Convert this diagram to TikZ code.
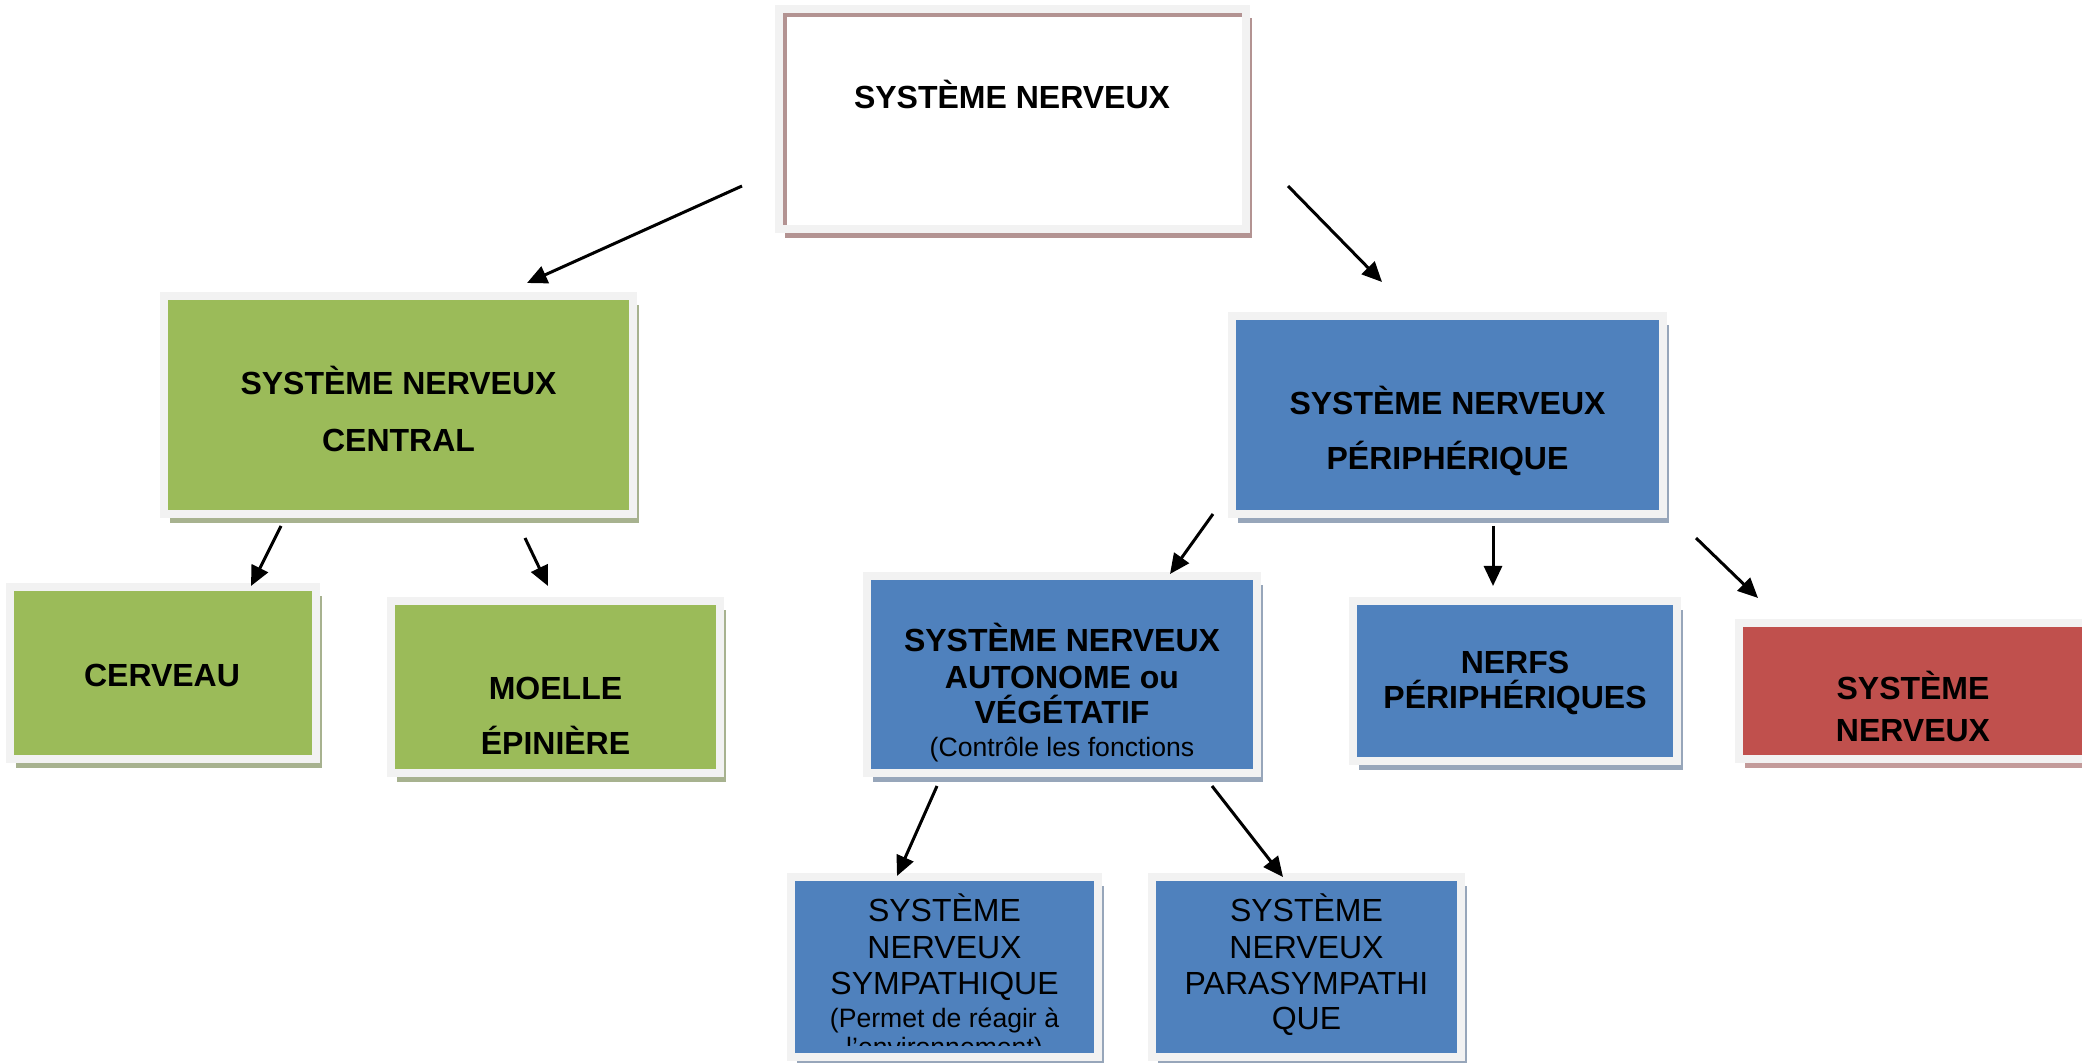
\documentclass[tikz,border=0pt]{standalone}
\usepackage{fontspec}
\setmainfont{Liberation Sans}
\usetikzlibrary{arrows.meta,calc,shadows}

\definecolor{vert}{HTML}{9BBB59}
\definecolor{bleu}{HTML}{4F81BD}
\definecolor{rouge}{HTML}{C0504D}
\definecolor{cadregris}{HTML}{F2F2F2}
\definecolor{ombrevert}{HTML}{A7B28F}
\definecolor{ombrebleu}{HTML}{97A6BA}
\definecolor{ombrebrun}{HTML}{B39392}
\definecolor{ombrerouge}{HTML}{C39B9A}

\tikzset{
  boite/.style={draw=cadregris, line width=4pt, inner sep=0pt, outer sep=0pt,
    drop shadow={shadow xshift=3.2pt, shadow yshift=-4.5pt, opacity=1, fill=#1}},
  titre/.style={font=\fontsize{16}{19}\selectfont\bfseries, anchor=base, inner sep=0pt},
  texte/.style={font=\fontsize{16}{19}\selectfont, anchor=base, inner sep=0pt},
  petit/.style={font=\fontsize{13.3}{16}\selectfont, anchor=base, inner sep=0pt},
  fleche/.style={line width=1.5pt, -{Triangle[length=10pt,width=9pt]}}
}

\begin{document}
\begin{tikzpicture}[x=0.5pt,y=-0.5pt]

	\useasboundingbox (0,0) rectangle (2082,1063);
	\clip (0,0) rectangle (2082,1063);

	% Boites
	\node[boite=ombrebrun, fill=white, minimum width=233.5pt, minimum height=110pt] (sn) at (1012.5,119) {};
	\draw[ombrebrun, line width=2pt] ($(sn.south west)+(6,-4)$) |- ($(sn.north east)+(-4,6)$);
	\node[boite=ombrevert, fill=vert, minimum width=234.5pt, minimum height=109pt] (snc) at (398.5,405) {};
	\node[boite=ombrevert, fill=vert, minimum width=153pt, minimum height=86pt] (cerveau) at (163,673) {};
	\node[boite=ombrevert, fill=vert, minimum width=164.5pt, minimum height=86pt] (moelle) at (555.5,687) {};
	\node[boite=ombrebleu, fill=bleu, minimum width=215.5pt, minimum height=99pt] (snp) at (1447.5,415) {};
	\node[boite=ombrebleu, fill=bleu, minimum width=195pt, minimum height=98.5pt] (sna) at (1062,674.5) {};
	\node[boite=ombrebleu, fill=bleu, minimum width=162pt, minimum height=80pt] (nerfs) at (1515,681) {};
	\node[boite=ombrerouge, fill=rouge, minimum width=174pt, minimum height=68pt] (snr) at (1913,691) {};
	\node[boite=ombrebleu, fill=bleu, minimum width=153.5pt, minimum height=90pt] (symp) at (944.5,967) {};
	\node[boite=ombrebleu, fill=bleu, minimum width=154.5pt, minimum height=90pt] (para) at (1306.5,967) {};

	% Textes
	\node[titre] (sn-t) at (1012,108.5) {SYSTÈME NERVEUX};
	\node[titre] (snc-t1) at (398.5,394.5) {SYSTÈME NERVEUX};
	\node[titre] (snc-t2) at (398.5,451.5) {CENTRAL};
	\node[titre] (cerveau-t) at (162,686.5) {CERVEAU};
	\node[titre] (moelle-t1) at (555.5,699.5) {MOELLE};
	\node[titre] (moelle-t2) at (555.5,754.5) {ÉPINIÈRE};
	\node[titre] (snp-t1) at (1447.5,414.5) {SYSTÈME NERVEUX};
	\node[titre] (snp-t2) at (1447.5,469.5) {PÉRIPHÉRIQUE};
	\node[titre] (sna-t1) at (1062,651.5) {SYSTÈME NERVEUX};
	\node[titre] (sna-t2) at (1062,688.5) {AUTONOME ou};
	\node[titre] (sna-t3) at (1062,723.5) {VÉGÉTATIF};
	\node[petit] (sna-t4) at (1062,756.5) {(Contrôle les fonctions};
	\node[titre] (nerfs-t1) at (1515,673.5) {NERFS};
	\node[titre] (nerfs-t2) at (1515,708.5) {PÉRIPHÉRIQUES};
	\node[titre] (snr-t1) at (1913,699.5) {SYSTÈME};
	\node[titre] (snr-t2) at (1913,741.5) {NERVEUX};
	\node[texte] (symp-t1) at (944.5,921.5) {SYSTÈME};
	\node[texte] (symp-t2) at (944.5,958.5) {NERVEUX};
	\node[texte] (symp-t3) at (944.5,994.5) {SYMPATHIQUE};
	\node[petit] (symp-t4) at (944.5,1027.5) {(Permet de réagir à};
	\begin{scope}
		\clip (795,881) rectangle (1095,1045);
		\node[petit] (symp-t5) at (944.5,1056) {l'environnement)};
	\end{scope}
	\node[texte] (para-t1) at (1306.5,921.5) {SYSTÈME};
	\node[texte] (para-t2) at (1306.5,958.5) {NERVEUX};
	\node[texte] (para-t3) at (1306.5,994.5) {PARASYMPATHI};
	\node[texte] (para-t4) at (1306.5,1029.5) {QUE};

	% Fleches
	\coordinate (sn-g) at (742,186);   \coordinate (snc-h) at (527,283);
	\coordinate (sn-d) at (1288,186);  \coordinate (snp-h) at (1382,282);
	\coordinate (snc-g) at (281,526);  \coordinate (cerveau-h) at (251,586);
	\coordinate (snc-d) at (525,538);  \coordinate (moelle-h) at (548,586);
	\coordinate (snp-g) at (1213,514); \coordinate (sna-h) at (1170,574);
	\coordinate (snp-b) at (1493,526); \coordinate (nerfs-h) at (1493,586);
	\coordinate (snp-d) at (1696,538); \coordinate (snr-h) at (1758,598);
	\coordinate (sna-g) at (937,786);  \coordinate (symp-h) at (897,876);
	\coordinate (sna-d) at (1212,786); \coordinate (para-h) at (1283,877);

	\draw[fleche] (sn-g) -- (snc-h);
	\draw[fleche] (sn-d) -- (snp-h);
	\draw[fleche] (snc-g) -- (cerveau-h);
	\draw[fleche] (snc-d) -- (moelle-h);
	\draw[fleche] (snp-g) -- (sna-h);
	\draw[fleche] (snp-b) -- (nerfs-h);
	\draw[fleche] (snp-d) -- (snr-h);
	\draw[fleche] (sna-g) -- (symp-h);
	\draw[fleche] (sna-d) -- (para-h);

\end{tikzpicture}
\end{document}
